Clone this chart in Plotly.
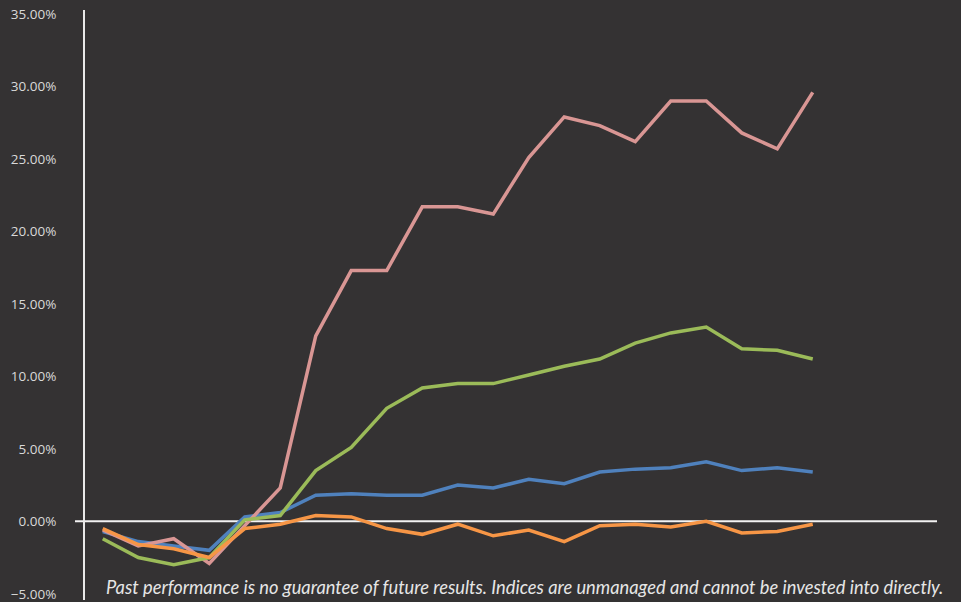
import plotly.graph_objects as go

categories = [str(i) for i in range(1, 25)]

pink_values = [-0.006, -0.017, -0.012, -0.029, -0.003, 0.023, 0.128, 0.173, 0.173, 0.217, 0.217,
               0.212, 0.251, 0.279, 0.273, 0.262, 0.290, 0.290, 0.268, 0.257, 0.296]
green_values = [-0.012, -0.025, -0.030, -0.025, 0.001, 0.004, 0.035, 0.051, 0.078, 0.092, 0.095,
                0.095, 0.101, 0.107, 0.112, 0.123, 0.130, 0.134, 0.119, 0.118, 0.112]
blue_values = [-0.007, -0.014, -0.017, -0.020, 0.003, 0.006, 0.018, 0.019, 0.018, 0.018, 0.025,
               0.023, 0.029, 0.026, 0.034, 0.036, 0.037, 0.041, 0.035, 0.037, 0.034]
orange_values = [-0.005, -0.016, -0.019, -0.025, -0.005, -0.002, 0.004, 0.003, -0.005, -0.009, -0.002,
                 -0.010, -0.006, -0.014, -0.003, -0.002, -0.004, 0.000, -0.008, -0.007, -0.002]

tick_vals = [-0.05, 0.0, 0.05, 0.10, 0.15, 0.20, 0.25, 0.30, 0.35]
footnote = "Past performance is no guarantee of future results. Indices are unmanaged and cannot be invested into directly."

series = [
    ("Series A", blue_values, "#4F81BD"),
    ("Series B", pink_values, "#D99694"),
    ("Series C", green_values, "#9BBB59"),
    ("Series D", orange_values, "#F79646"),
]

fig = go.Figure()
for name, vals, color in series:
    fig.add_trace(go.Scatter(
        x=categories[:len(vals)], y=vals, mode="lines", name=name,
        line=dict(color=color, width=3.5), showlegend=False,
    ))

bg = "#343233"
fig.update_layout(
    width=961, height=602,
    paper_bgcolor=bg, plot_bgcolor=bg,
    margin=dict(l=85, r=24, t=10, b=0),
    xaxis=dict(
        type="category", categoryorder="array", categoryarray=categories,
        range=[-0.5, 23.5], showgrid=False, showticklabels=False,
        zeroline=False, showline=False, ticks="",
    ),
    yaxis=dict(
        range=[-0.0543, 0.3528], tickvals=tick_vals, tickformat=".2%",
        showgrid=False, zeroline=False, showline=True, linecolor="#e8e8e8",
        linewidth=2, ticks="", ticklen=0, ticklabelstandoff=24,
        ticklabeloverflow="allow",
        tickfont=dict(family="Open Sans", size=13.5, color="#d9d9d9"),
    ),
    shapes=[dict(
        type="line", xref="paper", yref="y", x0=-10 / 852, x1=1, y0=0, y1=0,
        line=dict(color="#f2f2f2", width=2), layer="below",
    )],
    annotations=[dict(
        text=footnote, xref="paper", yref="paper", x=(945 - 85) / 852, y=(602 - 589) / 592,
        xanchor="right", yanchor="middle", showarrow=False,
        font=dict(family="Lato", size=18.3, color="#e6e6e6", style="italic"),
    )],
)

fig.write_html(
    "out.html",
    config={"displayModeBar": False},
    post_script="document.body.style.margin='0';document.body.style.background='#343233';document.body.style.overflow='hidden';",
)
